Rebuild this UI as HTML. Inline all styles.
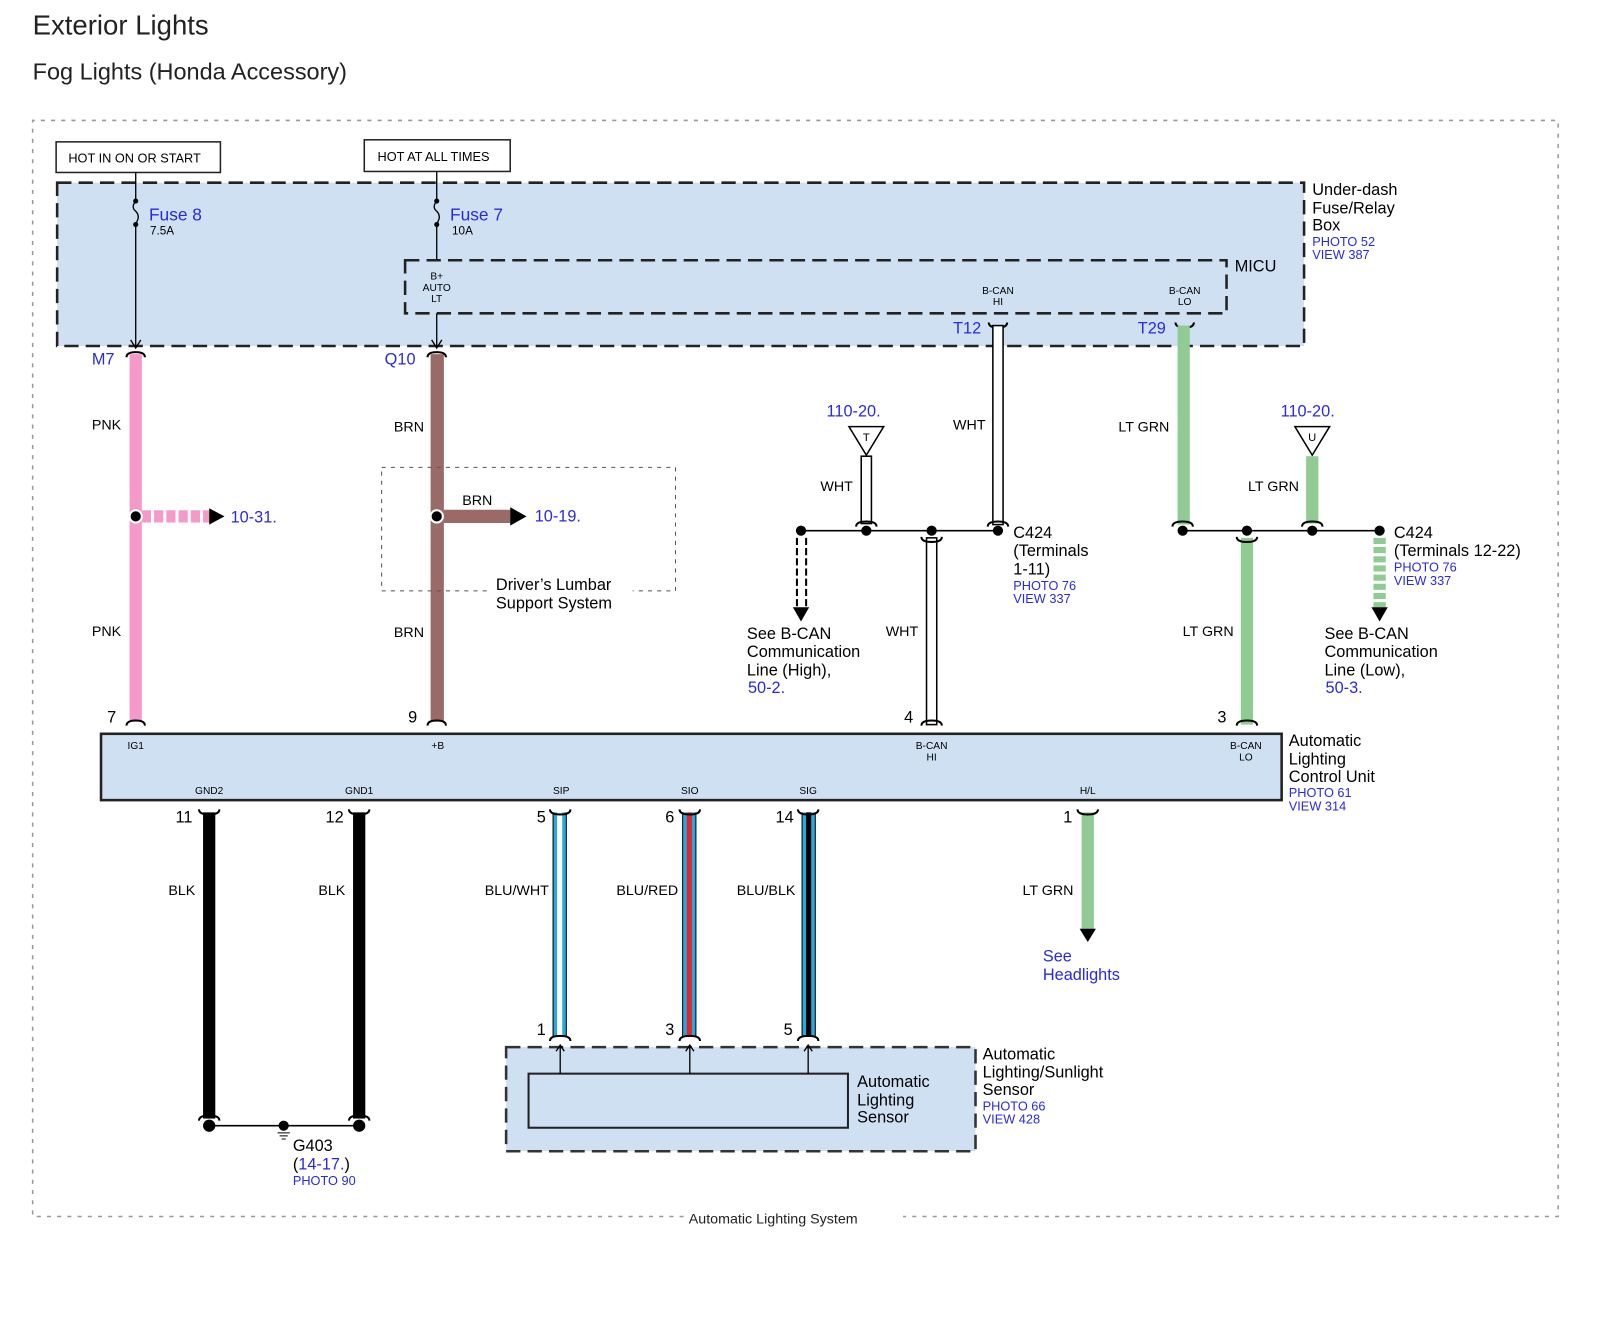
<!DOCTYPE html>
<html><head><meta charset="utf-8"><style>
html,body{margin:0;padding:0;background:#fff}
svg{display:block}
text{font-family:"Liberation Sans",Arial,sans-serif}
.b{fill:#2a2ae0}
.s{font-size:10px}
.m{font-size:14px}
.l{font-size:16px}
</style></head><body>
<svg width="1600" height="1339" viewBox="0 0 1568 1312" preserveAspectRatio="none" xmlns="http://www.w3.org/2000/svg">
<text x="32" y="34" font-size="27" fill="#222">Exterior Lights</text>
<text x="32" y="78" font-size="23" fill="#222">Fog Lights (Honda Accessory)</text>
<path d="M670,1192 H32 V118 H1527 V1192 H885" fill="none" stroke="#999" stroke-width="1.5" stroke-dasharray="4,6"/>
<text x="675" y="1199" class="m" fill="#222" font-size="15">Automatic Lighting System</text>
<rect x="55" y="139" width="161" height="30" fill="#fff" stroke="#222" stroke-width="1.5"/>
<text x="67" y="159" font-size="12.5">HOT IN ON OR START</text>
<rect x="357" y="137" width="143" height="31" fill="#fff" stroke="#222" stroke-width="1.5"/>
<text x="370" y="158" font-size="12.5">HOT AT ALL TIMES</text>
<rect x="56" y="179" width="1222" height="160" fill="#cfe0f2" stroke="#222" stroke-width="2.5" stroke-dasharray="14,7"/>
<rect x="397" y="255" width="805" height="52" fill="#cfe0f2" stroke="#222" stroke-width="2.5" stroke-dasharray="14,7"/>
<text x="1286" y="191" class="l">Under-dash</text>
<text x="1286" y="209" class="l">Fuse/Relay</text>
<text x="1286" y="226" class="l">Box</text>
<text x="1286" y="241" class="b" font-size="12.5">PHOTO 52</text>
<text x="1286" y="254" class="b" font-size="12.5">VIEW 387</text>
<text x="1210" y="266" class="l">MICU</text>
<text x="428" y="274" class="s" text-anchor="middle">B+</text>
<text x="428" y="285" class="s" text-anchor="middle">AUTO</text>
<text x="428" y="296" class="s" text-anchor="middle">LT</text>
<text x="978" y="288" class="s" text-anchor="middle">B-CAN</text>
<text x="978" y="299" class="s" text-anchor="middle">HI</text>
<text x="1161" y="288" class="s" text-anchor="middle">B-CAN</text>
<text x="1161" y="299" class="s" text-anchor="middle">LO</text>
<line x1="133" y1="169" x2="133" y2="196" stroke="#000" stroke-width="1.3"/>
<path d="M133,197 q-5,6 0,10 q5,5 0,12" fill="none" stroke="#000" stroke-width="1.3"/>
<circle cx="133" cy="197" r="2.5"/><circle cx="133" cy="220" r="2.5"/>
<line x1="133" y1="220" x2="133" y2="341" stroke="#000" stroke-width="1.3"/>
<path d="M128,333 L133,341 L138,333" fill="none" stroke="#000" stroke-width="1.3"/>
<text x="146" y="216" class="b" font-size="17">Fuse 8</text>
<text x="147" y="230" font-size="11.5">7.5A</text>
<line x1="428" y1="168" x2="428" y2="196" stroke="#000" stroke-width="1.3"/>
<path d="M428,197 q-5,6 0,10 q5,5 0,12" fill="none" stroke="#000" stroke-width="1.3"/>
<circle cx="428" cy="197" r="2.5"/><circle cx="428" cy="220" r="2.5"/>
<line x1="428" y1="220" x2="428" y2="255" stroke="#000" stroke-width="1.3"/>
<line x1="428" y1="307" x2="428" y2="341" stroke="#000" stroke-width="1.3"/>
<path d="M423,333 L428,341 L433,333" fill="none" stroke="#000" stroke-width="1.3"/>
<text x="441" y="216" class="b" font-size="17">Fuse 7</text>
<text x="443" y="230" font-size="11.5">10A</text>
<rect x="127" y="347" width="12" height="360" fill="#f59ac8"/>
<text x="90" y="357" class="b" font-size="16">M7</text>
<text x="90" y="421" class="m">PNK</text>
<text x="90" y="623" class="m">PNK</text>
<text x="105" y="708" class="l">7</text>
<path d="M139,506 H205" stroke="#f59ac8" stroke-width="12" stroke-dasharray="9,3"/>
<path d="M205,498 L220,506 L205,514z"/>
<circle cx="133" cy="506" r="6" fill="#000" stroke="#fff" stroke-width="2"/>
<text x="226" y="512" class="b" font-size="16">10-31.</text>
<rect x="422" y="347" width="13" height="360" fill="#9a6b66"/>
<text x="377" y="357" class="b" font-size="16">Q10</text>
<text x="386" y="423" class="m">BRN</text>
<text x="386" y="624" class="m">BRN</text>
<text x="400" y="708" class="l">9</text>
<rect x="374" y="458" width="288" height="121" fill="none" stroke="#555" stroke-width="1" stroke-dasharray="4,5"/>
<rect x="480" y="565" width="140" height="30" fill="#fff"/>
<path d="M435,506 H500" stroke="#9a6b66" stroke-width="13"/>
<path d="M500,497 L516,506 L500,515z"/>
<circle cx="428" cy="506" r="6" fill="#000" stroke="#fff" stroke-width="2"/>
<text x="453" y="495" class="m">BRN</text>
<text x="524" y="511" class="b" font-size="16">10-19.</text>
<text x="486" y="578" class="l">Driver’s Lumbar</text>
<text x="486" y="596" class="l">Support System</text>
<g fill="none" stroke="#000" stroke-width="2">
<path d="M124,350 q0,-5 9,-5 q9,0 9,5"/><path d="M419,350 q0,-5 9,-5 q9,0 9,5"/>
<path d="M124,711 q0,-5 9,-5 q9,0 9,5"/><path d="M419,711 q0,-5 9,-5 q9,0 9,5"/>
<path d="M969,316 q0,5 9,5 q9,0 9,-5"/><path d="M1152,316 q0,5 9,5 q9,0 9,-5"/>
</g>
<text x="934" y="327" class="b" font-size="16">T12</text>
<text x="1115" y="327" class="b" font-size="16">T29</text>
<rect x="973" y="319" width="10" height="195" fill="#fff" stroke="#000" stroke-width="1.5"/>
<text x="934" y="421" class="m">WHT</text>
<rect x="1154" y="319" width="12" height="195" fill="#8fcb92"/>
<text x="1096" y="423" class="m">LT GRN</text>
<line x1="785" y1="520" x2="978" y2="520" stroke="#000" stroke-width="1.5"/>
<text x="810" y="408" class="b" font-size="16">110-20.</text>
<path d="M832,418 L866,418 L849,446z" fill="#fff" stroke="#000" stroke-width="1.5"/>
<text x="849" y="432" font-size="11" text-anchor="middle">T</text>
<rect x="844" y="447" width="10" height="66" fill="#fff" stroke="#000" stroke-width="1.5"/>
<text x="804" y="481" class="m">WHT</text>
<rect x="908" y="527" width="10" height="183" fill="#fff" stroke="#000" stroke-width="1.5"/>
<text x="868" y="623" class="m">WHT</text>
<text x="886" y="708" class="l">4</text>
<path d="M781,527 V595 M790,527 V595" stroke="#000" stroke-width="2" stroke-dasharray="7,3"/>
<path d="M777,595 L793,595 L785,609z"/>
<circle cx="785" cy="520" r="5"/><circle cx="849" cy="520" r="5"/><circle cx="913" cy="520" r="5"/><circle cx="978" cy="520" r="5"/>
<text x="993" y="527" class="l">C424</text>
<text x="993" y="545" class="l">(Terminals</text>
<text x="993" y="563" class="l">1-11)</text>
<text x="993" y="578" class="b" font-size="12.5">PHOTO 76</text>
<text x="993" y="591" class="b" font-size="12.5">VIEW 337</text>
<text x="732" y="626" class="l">See B-CAN</text>
<text x="732" y="644" class="l">Communication</text>
<text x="732" y="662" class="l">Line (High),</text>
<text x="733" y="679" class="b" font-size="16">50-2.</text>
<line x1="1159" y1="520" x2="1352" y2="520" stroke="#000" stroke-width="1.5"/>
<text x="1255" y="408" class="b" font-size="16">110-20.</text>
<path d="M1269,418 L1303,418 L1286,446z" fill="#fff" stroke="#000" stroke-width="1.5"/>
<text x="1286" y="432" font-size="11" text-anchor="middle">U</text>
<rect x="1280" y="447" width="12" height="66" fill="#8fcb92"/>
<text x="1223" y="481" class="m">LT GRN</text>
<rect x="1216" y="527" width="12" height="183" fill="#8fcb92"/>
<text x="1159" y="623" class="m">LT GRN</text>
<text x="1193" y="708" class="l">3</text>
<path d="M1352,527 V595" stroke="#8fcb92" stroke-width="12" stroke-dasharray="6,3"/>
<path d="M1344,595 L1360,595 L1352,609z"/>
<circle cx="1159" cy="520" r="5"/><circle cx="1222" cy="520" r="5"/><circle cx="1286" cy="520" r="5"/><circle cx="1352" cy="520" r="5"/>
<text x="1366" y="527" class="l">C424</text>
<text x="1366" y="545" class="l">(Terminals 12-22)</text>
<text x="1366" y="560" class="b" font-size="12.5">PHOTO 76</text>
<text x="1366" y="573" class="b" font-size="12.5">VIEW 337</text>
<text x="1298" y="626" class="l">See B-CAN</text>
<text x="1298" y="644" class="l">Communication</text>
<text x="1298" y="662" class="l">Line (Low),</text>
<text x="1299" y="679" class="b" font-size="16">50-3.</text>
<g fill="none" stroke="#000" stroke-width="2">
<path d="M839,516 q0,-5 10,-5 q10,0 10,5"/><path d="M968,516 q0,-5 10,-5 q10,0 10,5"/>
<path d="M1149,516 q0,-5 10,-5 q10,0 10,5"/><path d="M1276,516 q0,-5 10,-5 q10,0 10,5"/>
<path d="M903,526 q0,5 10,5 q10,0 10,-5"/><path d="M1212,526 q0,5 10,5 q10,0 10,-5"/>
<path d="M903,711 q0,-5 10,-5 q10,0 10,5"/><path d="M1212,711 q0,-5 10,-5 q10,0 10,5"/>
</g>
<rect x="99" y="719" width="1157" height="65" fill="#cfe0f2" stroke="#222" stroke-width="2.5"/>
<g class="s" text-anchor="middle" font-size="9.5">
<text x="133" y="734">IG1</text><text x="429" y="734">+B</text>
<text x="913" y="734">B-CAN</text><text x="913" y="745">HI</text>
<text x="1221" y="734">B-CAN</text><text x="1221" y="745">LO</text>
<text x="205" y="778">GND2</text><text x="352" y="778">GND1</text><text x="550" y="778">SIP</text>
<text x="676" y="778">SIO</text><text x="792" y="778">SIG</text><text x="1066" y="778">H/L</text>
</g>
<text x="1263" y="731" class="l">Automatic</text>
<text x="1263" y="749" class="l">Lighting</text>
<text x="1263" y="766" class="l">Control Unit</text>
<text x="1263" y="781" class="b" font-size="12.5">PHOTO 61</text>
<text x="1263" y="794" class="b" font-size="12.5">VIEW 314</text>
<rect x="199" y="796" width="12" height="300" fill="#000"/>
<rect x="346" y="796" width="12" height="300" fill="#000"/>
<text x="172" y="806" class="l">11</text><text x="319" y="806" class="l">12</text>
<text x="165" y="877" class="m">BLK</text><text x="312" y="877" class="m">BLK</text>
<line x1="205" y1="1103" x2="352" y2="1103" stroke="#000" stroke-width="1.5"/>
<circle cx="205" cy="1103" r="6"/><circle cx="352" cy="1103" r="6"/><circle cx="278" cy="1103" r="5"/>
<path d="M272,1110 h12 M274,1113 h8 M276,1116 h4" stroke="#000" stroke-width="1"/>
<text x="287" y="1128" class="l">G403</text>
<text x="287" y="1146" class="l">(<tspan class="b">14-17.</tspan>)</text>
<text x="287" y="1161" class="b" font-size="12.5">PHOTO 90</text>
<rect x="542" y="796" width="13" height="220" fill="#29a8df"/><rect x="546" y="796" width="5" height="220" fill="#fff"/>
<rect x="669" y="796" width="13" height="220" fill="#29a8df"/><rect x="673" y="796" width="5" height="220" fill="#e3262b"/>
<rect x="786" y="796" width="13" height="220" fill="#29a8df"/><rect x="790" y="796" width="5" height="220" fill="#000"/>
<g stroke="#000" stroke-width="1"><line x1="542" y1="796" x2="542" y2="1016"/><line x1="555" y1="796" x2="555" y2="1016"/><line x1="669" y1="796" x2="669" y2="1016"/><line x1="682" y1="796" x2="682" y2="1016"/><line x1="786" y1="796" x2="786" y2="1016"/><line x1="799" y1="796" x2="799" y2="1016"/></g>
<text x="526" y="806" class="l">5</text><text x="652" y="806" class="l">6</text><text x="760" y="806" class="l">14</text>
<text x="475" y="877" class="m">BLU/WHT</text><text x="604" y="877" class="m">BLU/RED</text><text x="722" y="877" class="m">BLU/BLK</text>
<text x="526" y="1014" class="l">1</text><text x="652" y="1014" class="l">3</text><text x="768" y="1014" class="l">5</text>
<rect x="1060" y="796" width="12" height="115" fill="#8fcb92"/>
<path d="M1058,910 L1074,910 L1066,923z"/>
<text x="1042" y="806" class="l">1</text>
<text x="1002" y="877" class="m">LT GRN</text>
<text x="1022" y="942" class="b" font-size="16">See</text>
<text x="1022" y="960" class="b" font-size="16">Headlights</text>
<g fill="none" stroke="#000" stroke-width="2">
<path d="M195,793 q0,5 10,5 q10,0 10,-5"/><path d="M342,793 q0,5 10,5 q10,0 10,-5"/>
<path d="M539,793 q0,5 10,5 q10,0 10,-5"/><path d="M666,793 q0,5 10,5 q10,0 10,-5"/>
<path d="M782,793 q0,5 10,5 q10,0 10,-5"/><path d="M1056,793 q0,5 10,5 q10,0 10,-5"/>
<path d="M195,1098 q0,-5 10,-5 q10,0 10,5"/><path d="M342,1098 q0,-5 10,-5 q10,0 10,5"/>
<path d="M539,1020 q0,-5 10,-5 q10,0 10,5"/><path d="M666,1020 q0,-5 10,-5 q10,0 10,5"/><path d="M782,1020 q0,-5 10,-5 q10,0 10,5"/>
</g>
<rect x="496" y="1026" width="460" height="102" fill="#cfe0f2" stroke="#333" stroke-width="2.5" stroke-dasharray="14,7"/>
<rect x="518" y="1052" width="313" height="53" fill="#cfe0f2" stroke="#222" stroke-width="2"/>
<g stroke="#000" stroke-width="1.3" fill="none">
<line x1="549" y1="1052" x2="549" y2="1024"/><path d="M545,1030 L549,1024 L553,1030"/>
<line x1="676" y1="1052" x2="676" y2="1024"/><path d="M672,1030 L676,1024 L680,1030"/>
<line x1="792" y1="1052" x2="792" y2="1024"/><path d="M788,1030 L792,1024 L796,1030"/>
</g>
<text x="840" y="1065" class="l">Automatic</text>
<text x="840" y="1083" class="l">Lighting</text>
<text x="840" y="1100" class="l">Sensor</text>
<text x="963" y="1038" class="l">Automatic</text>
<text x="963" y="1056" class="l">Lighting/Sunlight</text>
<text x="963" y="1073" class="l">Sensor</text>
<text x="963" y="1088" class="b" font-size="12.5">PHOTO 66</text>
<text x="963" y="1101" class="b" font-size="12.5">VIEW 428</text>
</svg>
</body></html>
